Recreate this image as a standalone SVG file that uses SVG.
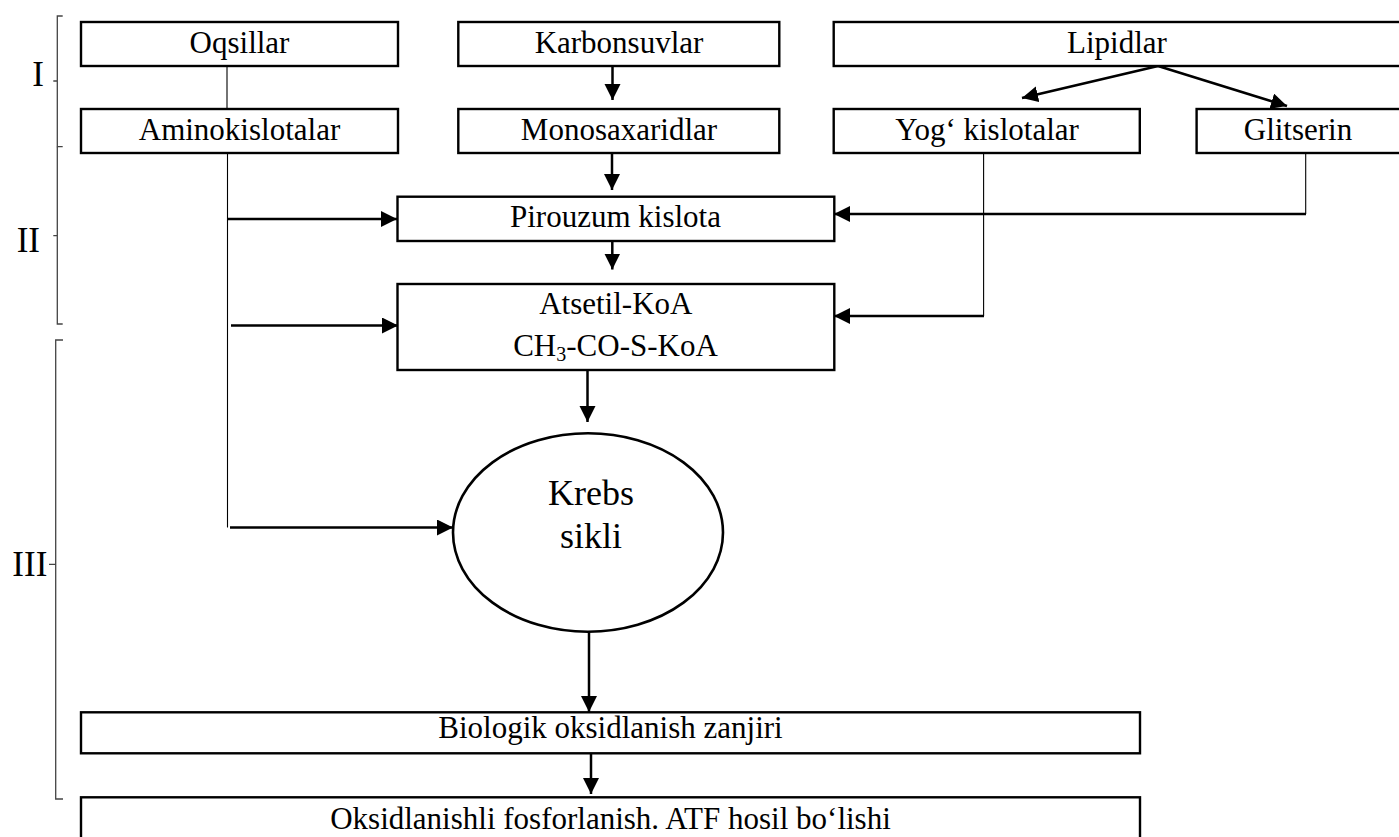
<svg xmlns="http://www.w3.org/2000/svg" width="1399" height="837" viewBox="0 0 1399 837">
<defs>
<style>
.box{fill:#fff;stroke:#000;stroke-width:2.4}
.t{font-family:"Liberation Serif","Times New Roman",serif;font-size:31px;fill:#000;text-anchor:middle}
.rn{font-family:"Liberation Serif","Times New Roman",serif;font-size:35px;fill:#000;text-anchor:end}
.br{fill:none;stroke:#444;stroke-width:1.3}
.thin{fill:none;stroke:#000;stroke-width:1.1}
.arr{fill:none;stroke:#000;stroke-width:2.5;marker-end:url(#ah)}
</style>
<marker id="ah" markerWidth="17" markerHeight="17" refX="16" refY="8" orient="auto" markerUnits="userSpaceOnUse">
<path d="M0,0 L16,8 L0,16 z" fill="#000"/>
</marker>
</defs>
<rect width="1399" height="837" fill="#fff"/>

<g id="brackets">
<path class="br" d="M62.7,16 H57.3 V146.7 H62.7 M57.3,81 H53.3"/>
<path class="br" d="M57.3,146.7 V324 H62.7 M57.3,235.7 H53.3"/>
<path class="br" d="M63,340 H55.7 V799 H63 M55.7,564.3 H49"/>
<text class="rn" x="44" y="86">I</text>
<text class="rn" x="40" y="252">II</text>
<text class="rn" x="47.3" y="576">III</text>
</g>

<g id="connectors">
<line class="thin" x1="227" y1="66" x2="227" y2="109"/>
<line class="thin" x1="227.5" y1="153" x2="227.5" y2="527.5"/>
<line class="arr" x1="612.5" y1="66" x2="612.5" y2="100"/>
<line class="arr" x1="1158" y1="66" x2="1022" y2="98"/>
<line class="arr" x1="1158" y1="66" x2="1287" y2="106"/>
<line class="arr" x1="227" y1="219" x2="397" y2="219"/>
<line class="arr" x1="231" y1="325.5" x2="398" y2="325.5"/>
<line class="arr" x1="230" y1="527.5" x2="453" y2="527.5"/>
<line class="arr" x1="612" y1="153" x2="612" y2="190"/>
<line class="arr" x1="612.3" y1="233" x2="612.3" y2="269.5"/>
<line class="thin" x1="1305.7" y1="153" x2="1305.7" y2="214"/>
<line class="arr" x1="1306" y1="214" x2="834" y2="214"/>
<line class="thin" x1="983.6" y1="153" x2="983.6" y2="316"/>
<line class="arr" x1="984" y1="316" x2="834" y2="316"/>
<line class="arr" x1="587.5" y1="370" x2="587.5" y2="422"/>
<line class="arr" x1="589" y1="632" x2="589" y2="712"/>
<line class="arr" x1="591" y1="753" x2="591" y2="794"/>
</g>

<g id="oqsillar"><rect class="box" x="81" y="22" width="317" height="44"/><text class="t" x="239.5" y="53">Oqsillar</text></g>
<g id="aminokislotalar"><rect class="box" x="81" y="109" width="317" height="44"/><text class="t" x="239.5" y="140">Aminokislotalar</text></g>
<g id="karbonsuvlar"><rect class="box" x="458.3" y="22" width="321" height="44"/><text class="t" x="619" y="53">Karbonsuvlar</text></g>
<g id="monosaxaridlar"><rect class="box" x="458.3" y="109" width="321" height="44"/><text class="t" x="619" y="140">Monosaxaridlar</text></g>
<g id="lipidlar"><rect class="box" x="833.7" y="22" width="570" height="44"/><text class="t" x="1117" y="53">Lipidlar</text></g>
<g id="yog-kislotalar"><rect class="box" x="833.7" y="109" width="306.1" height="44"/><text class="t" x="987" y="140">Yog‘ kislotalar</text></g>
<g id="glitserin"><rect class="box" x="1196.6" y="109" width="207" height="44"/><text class="t" x="1298" y="140">Glitserin</text></g>
<g id="pirouzum"><rect class="box" x="397.5" y="196.7" width="436.8" height="44.3"/><text class="t" x="615.5" y="226.7">Pirouzum kislota</text></g>
<g id="atsetil"><rect class="box" x="397.5" y="284" width="436.8" height="86"/><text class="t" x="615.8" y="314">Atsetil-KoA</text><text class="t" x="615.5" y="355.7">CH<tspan font-size="20" dy="5">3</tspan><tspan dy="-5">-CO-S-KoA</tspan></text></g>
<g id="krebs"><ellipse cx="588" cy="532.5" rx="135" ry="99.2" fill="#fff" stroke="#000" stroke-width="2.6"/><text class="t" style="font-size:36px" x="591" y="505">Krebs</text><text class="t" style="font-size:36px" x="591" y="548">sikli</text></g>
<g id="biologik"><rect class="box" x="81" y="712.3" width="1059" height="41"/><text class="t" x="610.5" y="738.3">Biologik oksidlanish zanjiri</text></g>
<g id="oksidlanishli"><rect class="box" x="81" y="797.3" width="1059" height="45"/><text class="t" x="610.5" y="829.3">Oksidlanishli fosforlanish. ATF hosil bo‘lishi</text></g>
</svg>
